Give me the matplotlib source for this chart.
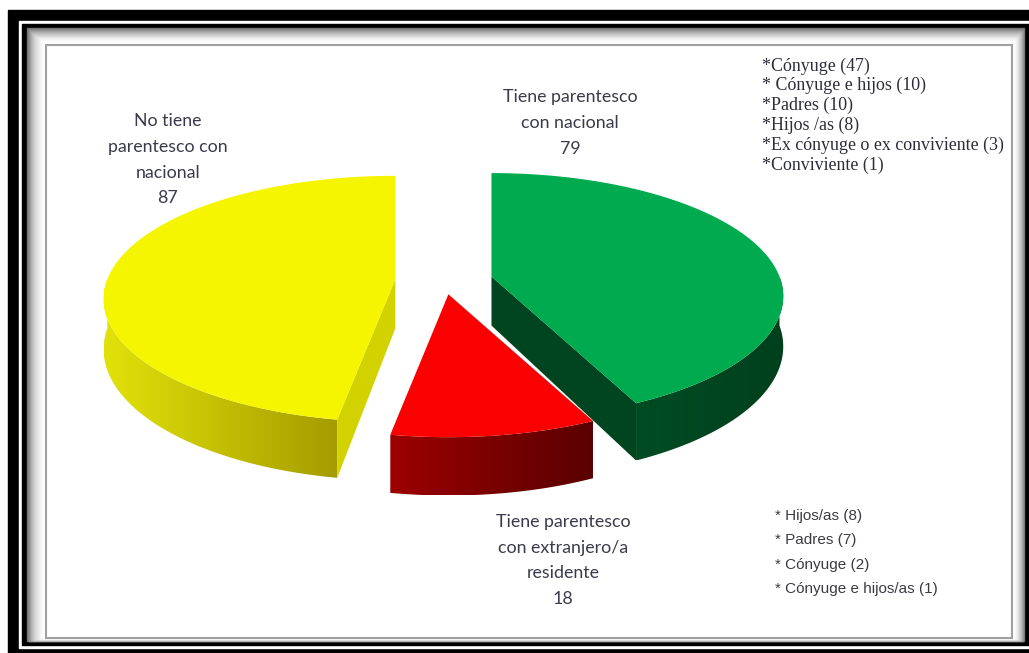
import numpy as np
import matplotlib
matplotlib.use("Agg")
import matplotlib.pyplot as plt
from matplotlib.patches import Polygon, Rectangle
from matplotlib.colors import LinearSegmentedColormap

# data
categories = ["Tiene parentesco\ncon nacional",
              "Tiene parentesco\ncon extranjero/a\nresidente",
              "No tiene\nparentesco con\nnacional"]
values = [79, 18, 87]
nacional_detail = ["*Cónyuge (47)", "* Cónyuge e hijos (10)", "*Padres (10)",
                   "*Hijos /as (8)", "*Ex cónyuge o ex conviviente (3)",
                   "*Conviviente (1)"]
extranjero_detail = ["* Hijos/as (8)", "* Padres (7)", "* Cónyuge (2)",
                     "* Cónyuge e hijos/as (1)"]

# styling for each slice: top colour, side gradient (left, right), cut face colour
top_colors = ["#00ab4f", "#fb0000", "#f5f500"]
side_colors = [("#004c23", "#00401d"), ("#9c0000", "#5a0000"), ("#e2e20a", "#a49c00")]
cut_colors = ["#00451f", "#7a0000", "#d2d200"]
explode = [0.17, 0.11, 0.17]

# simple perspective projection of a tilted disk (pixel space)
CX, CY = 444, 281
A, B, H, P = 288, 120, 49, 0.16


def proj(u, v, h=0.0):
    f = 1.0 / (1.0 + P * v)
    return np.array([CX + A * u * f, CY - B * v * f + H * h * f])


W, Hpx = 1029, 653
fig = plt.figure(figsize=(W / 100, Hpx / 100), dpi=100)
ax = fig.add_axes([0, 0, 1, 1])
ax.set_xlim(0, W)
ax.set_ylim(Hpx, 0)
ax.axis("off")

# frame: thick black border, thin black line, gray bevel, panel
ax.add_patch(Rectangle((8, 10), 1100, 700, color="black", zorder=0))
ax.add_patch(Rectangle((19, 21), 1100, 627, color="white", zorder=0.1))
ax.add_patch(Rectangle((22, 24), 1007, 621, color="black", zorder=0.2))
steps = 18
for i in range(steps):
    t = (i + 1) / steps
    g = 1 - 0.62 * (1 - t) ** 2
    ax.add_patch(Rectangle((27 + i * 1.05, 28 + i * 0.95), 997 - i * 1.05 - i * 0.7,
                           613 - i * 0.95 - i * 0.2, color=(g, g, g), zorder=0.3 + i * 0.01))
ax.add_patch(Rectangle((46, 45), 966, 593, facecolor="white", edgecolor="#a0a0a0",
                       lw=1.5, zorder=0.6))


def gradient_fill(poly_xy, c_left, c_right, z):
    poly = Polygon(poly_xy, closed=True, facecolor="none", edgecolor="none", zorder=z)
    ax.add_patch(poly)
    xs, ys = poly_xy[:, 0], poly_xy[:, 1]
    cmap = LinearSegmentedColormap.from_list("g", [c_left, c_right])
    grad = np.linspace(0, 1, 256).reshape(1, -1)
    im = ax.imshow(grad, cmap=cmap, aspect="auto", zorder=z,
                   extent=(xs.min(), xs.max(), ys.max(), ys.min()), interpolation="bilinear")
    im.set_clip_path(poly)


total = sum(values)
start = 0.0
for i, val in enumerate(values):
    span = 360.0 * val / total
    t0, t1 = start, start + span
    mid = np.deg2rad((t0 + t1) / 2)
    # explosion applied as a screen shift so radial edges stay straight
    shift = proj(explode[i] * np.sin(mid), explode[i] * np.cos(mid)) - proj(0, 0)

    th = np.deg2rad(np.linspace(t0, t1, 200))
    apex = proj(0, 0) + shift
    arc = np.array([proj(np.sin(a), np.cos(a)) for a in th]) + shift
    top = np.vstack([apex, arc])
    ax.add_patch(Polygon(top, closed=True, facecolor=top_colors[i], edgecolor="none",
                         zorder=3, antialiased=True))

    # outer side (front half only)
    s0, s1 = max(t0, 90.0), min(t1, 270.0)
    if s1 > s0:
        ts = np.deg2rad(np.linspace(s0, s1, 200))
        upper = np.array([proj(np.sin(a), np.cos(a)) for a in ts]) + shift
        lower = np.array([proj(np.sin(a), np.cos(a), 1) for a in ts]) + shift
        side = np.vstack([upper, lower[::-1]])
        gradient_fill(side, side_colors[i][0], side_colors[i][1], 2)

    # radial cut faces facing the viewer
    for ang, sign in ((t0, -1), (t1, 1)):
        a = np.deg2rad(ang)
        nv = -sign * np.sin(a)
        if nv < -0.02:
            face = np.array([proj(0, 0), proj(np.sin(a), np.cos(a)),
                             proj(np.sin(a), np.cos(a), 1), proj(0, 0, 1)]) + shift
            ax.add_patch(Polygon(face, closed=True, facecolor=cut_colors[i],
                                 edgecolor="none", zorder=2.5))
    start = t1

# category labels
label_font = dict(family="Lato", fontsize=12.8, color="#3a3a4c", ha="center",
                  va="top", linespacing=1.75, zorder=5)
ax.text(570, 89, f"{categories[0]}\n{values[0]}", **label_font)
ax.text(563, 514, f"{categories[1]}\n{values[1]}", **label_font)
ax.text(168, 113, f"{categories[2]}\n{values[2]}", **label_font)

# detail lists
for k, s in enumerate(nacional_detail):
    ax.text(762, 66 + k * 19.8, s, family="Liberation Serif", fontsize=12.9,
            color="#2c2c3c", va="center", ha="left", zorder=5)
for k, s in enumerate(extranjero_detail):
    ax.text(775, 516 + k * 24.3, s, family="Liberation Sans", fontsize=11,
            color="#3a3a44", va="center", ha="left", zorder=5)

fig.savefig("out.png", dpi=100)
